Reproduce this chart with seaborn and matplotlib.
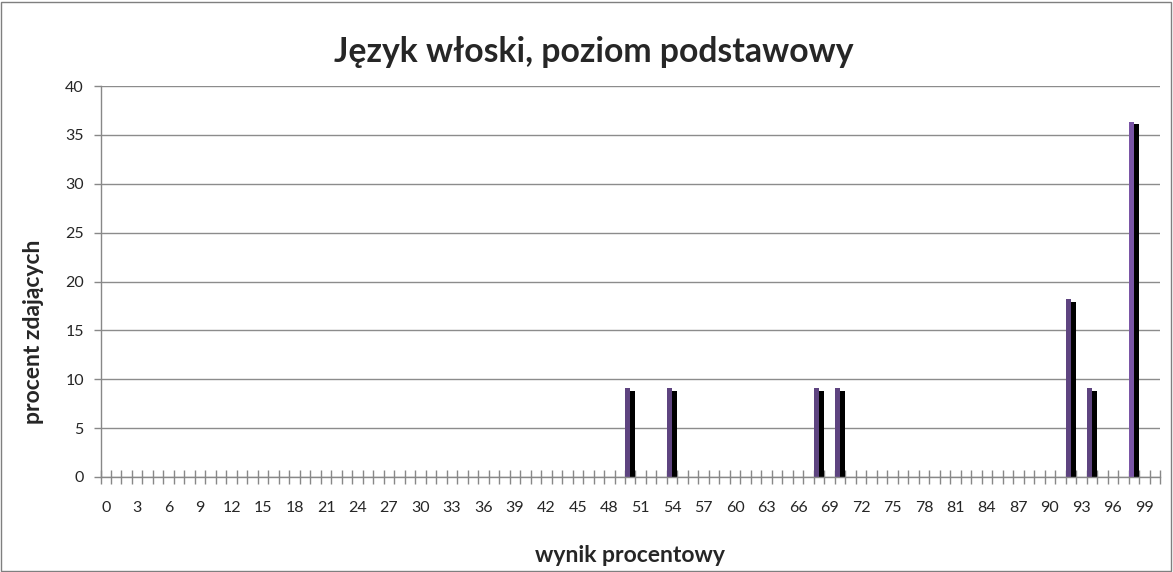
import matplotlib
matplotlib.use("Agg")
import matplotlib.pyplot as plt
import seaborn as sns
import pandas as pd
from matplotlib.patches import Rectangle

# ---- data ----
categories = list(range(0, 101))
bar_scores = [50, 54, 68, 70, 92, 94, 98]
series_main = [9.09, 9.09, 9.09, 9.09, 18.18, 9.09, 36.36]
series_shadow = [8.8, 8.8, 8.8, 8.8, 17.9, 8.8, 36.1]
tick_labels = [str(v) for v in range(0, 100, 3)]

title = "Język włoski, poziom podstawowy"
xlabel = "wynik procentowy"
ylabel = "procent zdających"

main_map = dict(zip(bar_scores, series_main))
shadow_map = dict(zip(bar_scores, series_shadow))
rows = []
for c in categories:
    rows.append({"wynik": c, "seria": "A", "procent": main_map.get(c, 0.0)})
    rows.append({"wynik": c, "seria": "B", "procent": shadow_map.get(c, 0.0)})
df = pd.DataFrame(rows)

sns.set_style("white")
plt.rcParams["font.family"] = ["Lato", "DejaVu Sans"]

fig = plt.figure(figsize=(11.73, 5.72), dpi=100)
ax = fig.add_axes([100.5 / 1173, 1 - 477 / 572, (1160 - 100.5) / 1173, (477 - 86) / 572])

sns.barplot(data=df, x="wynik", y="procent", hue="seria", order=categories,
            hue_order=["A", "B"], palette={"A": "#5E4480", "B": "#000000"},
            width=0.95, ax=ax, legend=False, errorbar=None, saturation=1)

# lighter purple for the tallest bar
for p in ax.patches:
    if abs(p.get_height() - 36.36) < 0.01:
        p.set_facecolor("#7A55A6")
    p.set_edgecolor("none")

ax.set_ylim(0, 40)
ax.set_xlim(-0.5, 100.5)
ax.set_yticks(range(0, 41, 5))
ax.tick_params(axis="y", left=True, labelsize=11.5, length=5, width=1, color="#888888",
               direction="out", pad=7)
ax.yaxis.grid(True, color="#8C8C8C", linewidth=1)
ax.set_axisbelow(True)

# category boundary ticks (crossing the axis) and labels every 3
ax.set_xticks([i - 0.5 for i in range(0, 102)], minor=True)
ax.set_xticks(list(range(0, 100, 3)))
ax.set_xticklabels(tick_labels, fontsize=11.5)
ax.tick_params(axis="x", which="major", bottom=False, length=0, pad=17)
ax.tick_params(axis="x", which="minor", bottom=True, length=10, width=1, color="#888888",
               direction="inout")

for s in ["top", "right"]:
    ax.spines[s].set_visible(False)
for s in ["left", "bottom"]:
    ax.spines[s].set_color("#888888")
    ax.spines[s].set_linewidth(1)

ax.set_xlabel("")
ax.set_ylabel("")
fig.text(594 / 1173, 1 - 52 / 572, title, ha="center", va="center", fontsize=24.3, fontweight="bold")
fig.text(630 / 1173, 1 - 556 / 572, xlabel, ha="center", va="center", fontsize=16.5, fontweight="bold")
fig.text(34 / 1173, 1 - 332 / 572, ylabel, ha="center", va="center", rotation=90, fontsize=16.5,
         fontweight="bold")

fig.patches.append(Rectangle((1 / 1173, 1 / 572), 1170 / 1173, 569 / 572, transform=fig.transFigure,
                             fill=False, edgecolor="#7F7F7F", linewidth=1))

fig.savefig("out.png", dpi=100)
